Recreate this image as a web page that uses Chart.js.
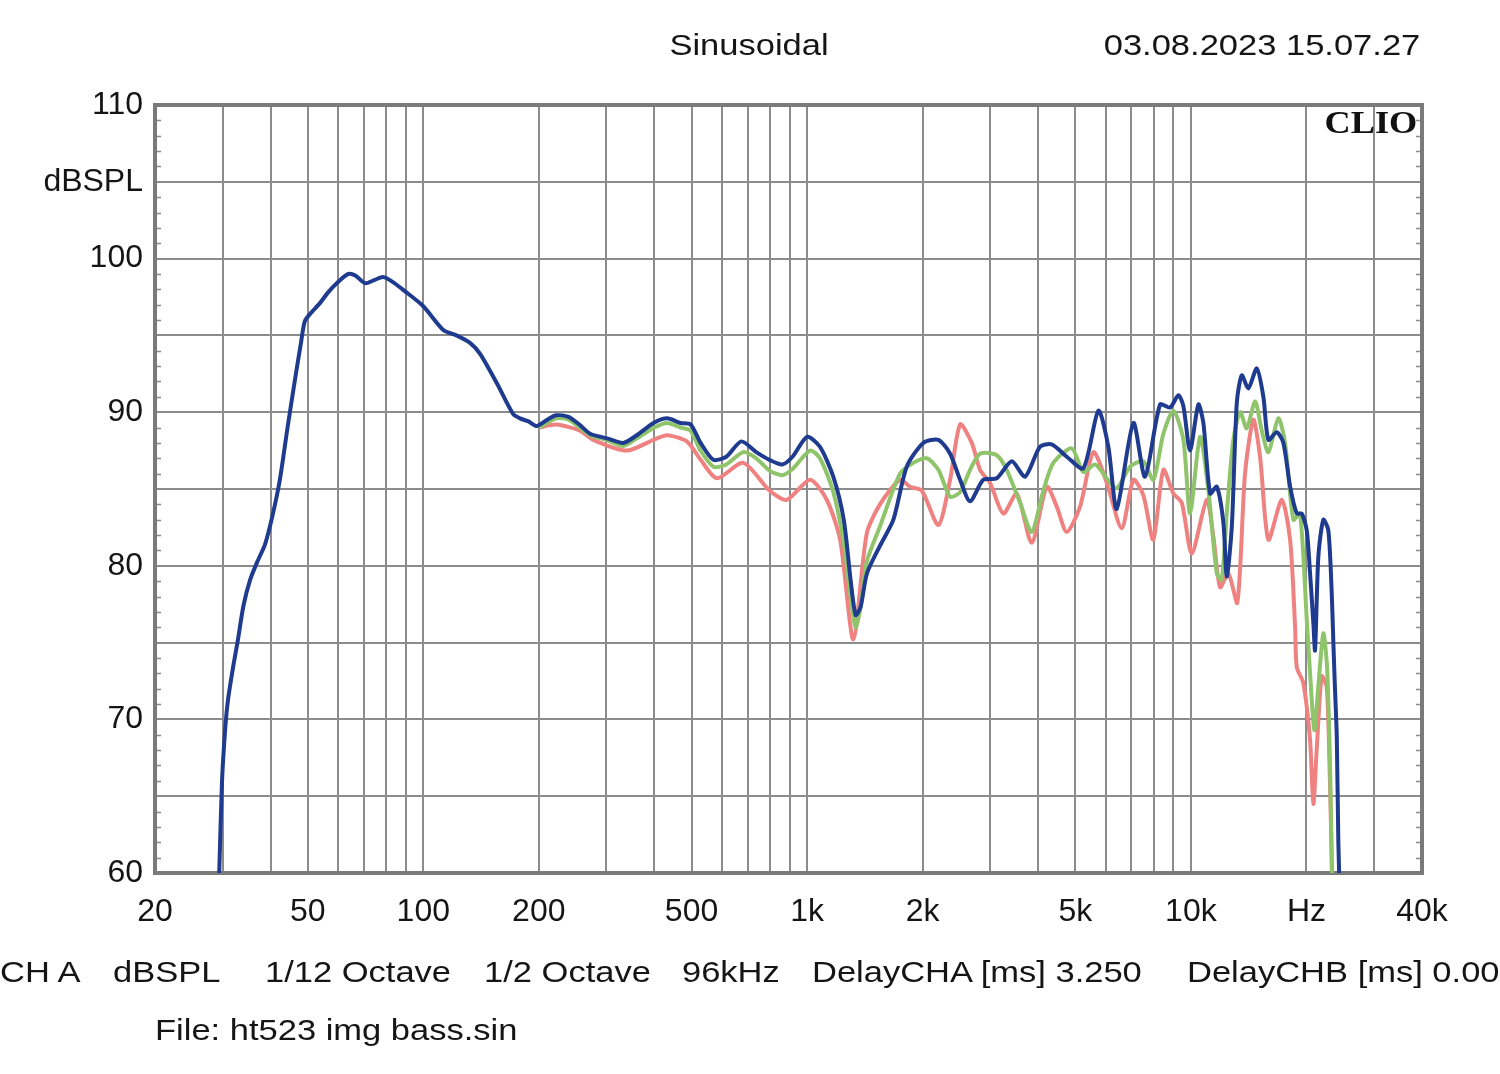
<!DOCTYPE html>
<html><head><meta charset="utf-8">
<script src="https://cdn.jsdelivr.net/npm/chart.js@4.4.0/dist/chart.umd.min.js"></script>
<style>
html,body{margin:0;padding:0;background:#fff;}
#wrap{position:relative;width:1500px;height:1074px;overflow:hidden;background:#fff;}
#c{position:absolute;left:0;top:0;}
.t{position:absolute;white-space:nowrap;font-family:"Liberation Sans",Arial,sans-serif;font-size:30px;line-height:36px;color:#151515;}
.l{transform-origin:left center;transform:scaleX(1.15);}
.r{transform-origin:right center;transform:scaleX(1.15);}
.clio{position:absolute;white-space:nowrap;font-family:"Liberation Serif","Times New Roman",serif;font-weight:bold;font-size:31px;line-height:36px;color:#111;transform-origin:right center;transform:scaleX(1.17);}
</style></head>
<body>
<div id="wrap">
<canvas id="c" width="1500" height="1074"></canvas>
<div class="t" style="left:749px;top:27px;transform:translateX(-50%) scaleX(1.15);">Sinusoidal</div>
<div class="t r" style="right:80px;top:27px;">03.08.2023 15.07.27</div>
<div class="clio" style="right:83px;top:105px;">CLIO</div>
<div class="t l" style="left:0px;top:954px;">CH A</div>
<div class="t l" style="left:113px;top:954px;">dBSPL</div>
<div class="t l" style="left:265px;top:954px;">1/12 Octave</div>
<div class="t l" style="left:484px;top:954px;">1/2 Octave</div>
<div class="t l" style="left:682px;top:954px;">96kHz</div>
<div class="t l" style="left:812px;top:954px;">DelayCHA [ms] 3.250</div>
<div class="t l" style="left:1187px;top:954px;">DelayCHB [ms] 0.00</div>
<div class="t l" style="left:155px;top:1012px;">File: ht523 img bass.sin</div>
</div>
<script>
// ---- data ----
const xGrid = [20,30,40,50,60,70,80,90,100,200,300,400,500,600,700,800,900,1000,2000,3000,4000,5000,6000,7000,8000,9000,10000,20000,30000,40000];
const xTickLabels = {20:'20',50:'50',100:'100',200:'200',500:'500',1000:'1k',2000:'2k',5000:'5k',10000:'10k',20000:'Hz',40000:'40k'};
const yTickLabels = {60:'60',70:'70',80:'80',90:'90',100:'100',105:'dBSPL',110:'110'};

const blueF = [29.2,29.4,29.9,30.5,31.0,32.0,32.9,34.0,35.4,37.0,38.7,40.5,42.3,44.3,46.3,48.0,49.1,50.7,53.8,56.5,59.5,63.8,66.5,70.5,74.5,78.6,83,88.8,100,112.8,122,132.6,140.6,155.4,171.2,178.6,188,197.5,210,222,239,255,272,301,332,360,398,432,468,497,528,570,616,674,737,798,862,916,1000,1080,1170,1246,1298,1338,1378,1432,1548,1678,1818,2008,2198,2358,2504,2658,2878,3120,3414,3698,4044,4338,4748,5246,5740,6094,6408,7080,7594,8310,8824,9274,9558,9948,10456,10776,11220,11678,12150,12398,12780,13168,13570,14116,14846,15446,15916,16738,17416,18132,18874,19442,20036,20438,20846,21058,21480,22132,22808,23276,23502,23740,23990,24216,24462];
const blueDB = [58,60,66,69.5,71.3,73.5,75.2,77.4,79.1,80.3,81.4,83.3,85.6,89.0,92.1,94.5,95.9,96.4,97.1,97.8,98.4,99.0,98.9,98.4,98.6,98.8,98.5,97.95,96.9,95.35,95.0,94.5,93.8,91.9,89.9,89.6,89.4,89.1,89.5,89.8,89.7,89.2,88.6,88.3,88.0,88.5,89.3,89.6,89.3,89.2,88.0,86.9,87.1,88.1,87.4,86.9,86.6,87.1,88.4,87.75,85.8,83.0,79.1,76.8,77.3,79.5,81.3,83.0,86.45,88.0,88.2,87.3,85.6,84.2,85.6,85.7,86.8,85.8,87.75,87.9,87.1,86.35,90.1,87.75,83.7,89.3,85.8,90.5,90.3,91.1,90.4,87.5,90.5,89.3,84.7,85.15,82.8,79.3,82.55,90.6,92.4,91.55,92.85,91.0,88.2,88.7,88.0,85.15,83.4,83.4,82.3,79.5,76.25,74.5,80.6,83.0,82.3,78.2,75.0,71.9,68.9,62,58];

const greenF = [200,222,240,272,300,332,360,400,432,468,497,528,570,616,682,737,798,862,916,1018,1080,1170,1246,1298,1338,1378,1432,1548,1746,1892,2050,2198,2358,2504,2658,2822,3120,3312,3588,3848,4126,4380,4892,5246,5626,6036,6408,6942,7516,7982,8476,9002,9558,9948,10564,11106,11678,12032,12398,12900,13428,13978,14696,15296,15916,16900,17592,18490,19246,20036,20438,20972,21450,22132,22632,23044,23276,23400];
const greenDB = [89.0,89.6,89.5,88.5,88.2,87.8,88.3,89.0,89.3,89.0,88.8,87.5,86.45,86.6,87.4,87.0,86.2,85.9,86.3,87.5,87.0,84.8,81.5,78.0,76.0,77.3,80.3,82.55,86.0,86.7,87.0,86.25,84.5,84.8,86.25,87.3,87.2,86.25,84.1,82.2,84.9,86.7,87.65,86.1,86.6,85.7,85.05,86.45,86.8,85.6,88.6,90.1,88.2,83.4,88.4,84.9,79.5,79.1,83.4,88.2,90.0,88.95,90.7,88.8,87.4,89.6,88.0,83.0,83.4,76.5,73.0,69.3,72.0,75.6,73.4,66.9,60.8,58];

const redF = [200,222,256,277,339,398,432,486,528,582,682,798,885,1018,1125,1219,1320,1430,1548,1746,1854,1989,2198,2358,2504,2686,2822,2996,3246,3518,3848,4212,4472,4748,5142,5570,6036,6604,7080,7516,7982,8476,9002,9466,10050,10998,11442,11912,12520,13214,13836,14546,15140,15916,17246,18132,18684,18874,19630,20438,20846,21266,21918,22590,23044,23276,23400];
const redDB = [89.0,89.2,88.8,88.2,87.5,88.2,88.5,88.1,86.9,85.7,86.7,84.9,84.3,85.6,84.3,81.7,75.2,82.1,84.0,85.6,85.15,84.9,82.65,85.6,89.2,88.0,86.25,85.4,83.4,84.7,81.5,85.15,83.85,82.2,83.85,87.4,85.4,82.45,85.6,84.6,81.7,86.25,84.7,84.1,80.8,84.3,81.9,78.6,79.5,77.6,86.0,89.5,87.1,81.7,84.3,81.7,76.0,73.4,72.35,68.65,64.5,68.0,72.8,72.1,65.6,60.8,58];

const pts = (f, d) => f.map((v, i) => ({x: v, y: d[i]}));

const framePlugin = {
  id: 'frame',
  beforeDatasetsDraw(chart) {
    const {ctx, chartArea: a} = chart;
    const y = chart.scales.y;
    ctx.save();
    ctx.strokeStyle = '#8a8a8a';
    ctx.lineWidth = 1.5;
    for (let v = 61; v < 110; v++) {
      if (v % 5 === 0) continue;
      const py = Math.round(y.getPixelForValue(v)) + 0.5;
      ctx.beginPath();
      ctx.moveTo(a.left, py); ctx.lineTo(a.left + 6, py);
      ctx.moveTo(a.right - 6, py); ctx.lineTo(a.right, py);
      ctx.stroke();
    }
    ctx.strokeStyle = '#7a7a7a';
    ctx.lineWidth = 4;
    ctx.strokeRect(a.left, a.top, a.right - a.left, a.bottom - a.top);
    ctx.restore();
  }
};

const tickFont = {family: '"Liberation Sans", Arial, sans-serif', size: 32};

new Chart(document.getElementById('c'), {
  type: 'line',
  data: {
    datasets: [
      {label: 'blue', data: pts(blueF, blueDB), borderColor: '#1f3b8f', borderWidth: 4, pointRadius: 0, tension: 0.25, fill: false},
      {label: 'green', data: pts(greenF, greenDB), borderColor: '#8fc46b', borderWidth: 4, pointRadius: 0, tension: 0.25, fill: false},
      {label: 'red', data: pts(redF, redDB), borderColor: '#ef8181', borderWidth: 4, pointRadius: 0, tension: 0.25, fill: false}
    ]
  },
  options: {
    responsive: false,
    animation: false,
    devicePixelRatio: 1,
    layout: {padding: {top: 105, right: 78, left: 0, bottom: 0}},
    plugins: {legend: {display: false}, tooltip: {enabled: false}},
    scales: {
      x: {
        type: 'logarithmic', min: 20, max: 40000, position: 'bottom',
        afterBuildTicks: s => { s.ticks = xGrid.map(v => ({value: v})); },
        afterFit: s => { s.height = 201; },
        grid: {color: '#8c8c8c', lineWidth: 2, drawTicks: false},
        border: {display: false},
        ticks: {autoSkip: false, maxRotation: 0, minRotation: 0, padding: 20, color: '#151515', font: tickFont,
          callback: v => xTickLabels[v] !== undefined ? xTickLabels[v] : ''}
      },
      y: {
        type: 'linear', min: 60, max: 110,
        afterFit: s => { s.width = 155; },
        grid: {color: '#8c8c8c', lineWidth: 2, drawTicks: false},
        border: {display: false},
        ticks: {stepSize: 5, padding: 12, color: '#151515', font: tickFont,
          callback: v => yTickLabels[v] !== undefined ? yTickLabels[v] : ''}
      }
    }
  },
  plugins: [framePlugin]
});
</script>
</body></html>
